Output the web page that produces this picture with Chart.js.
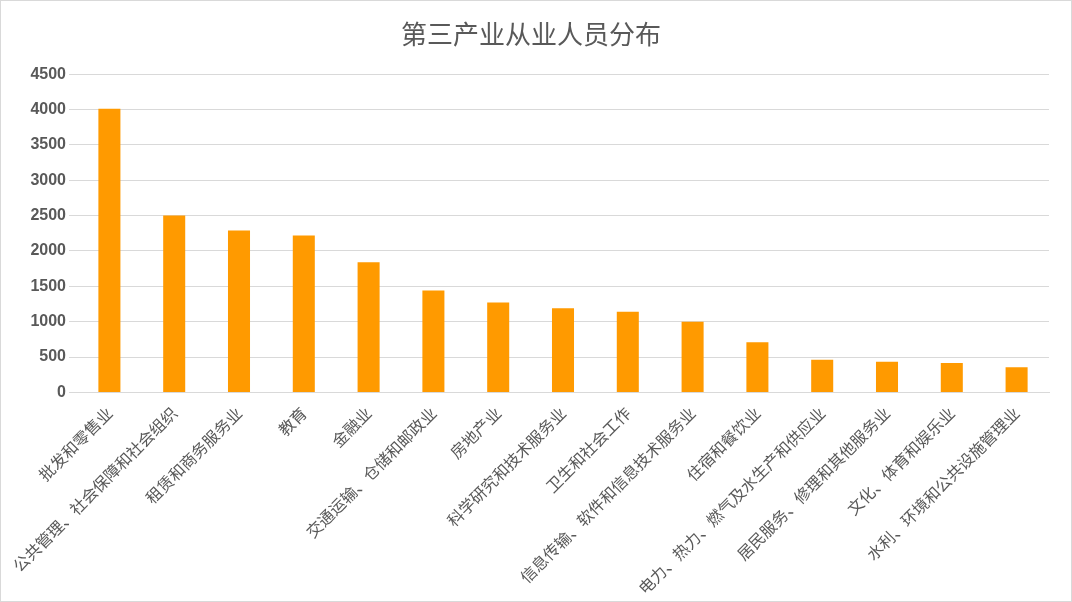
<!DOCTYPE html>
<html><head><meta charset="utf-8">
<script src="https://cdn.jsdelivr.net/npm/chart.js@4/dist/chart.umd.min.js"></script>
<style>html,body{margin:0;padding:0;background:#fff}#w{width:1070px;height:600px;border:1px solid #d9d9d9;position:relative}</style>
</head><body><div id="w"><canvas id="c"></canvas></div>
<script>
const categories=["批发和零售业","公共管理、社会保障和社会组织","租赁和商务服务业","教育","金融业","交通运输、仓储和邮政业","房地产业","科学研究和技术服务业","卫生和社会工作","信息传输、软件和信息技术服务业","住宿和餐饮业","电力、热力、燃气及水生产和供应业","居民服务、修理和其他服务业","文化、体育和娱乐业","水利、环境和公共设施管理业"];
const values=[4010,2500,2290,2220,1840,1440,1270,1190,1140,1000,710,463,432,417,355];
const FONT='"Noto Sans CJK SC","Noto Sans",sans-serif';
new Chart(document.getElementById('c'),{type:'bar',
data:{labels:categories,datasets:[{data:values,backgroundColor:'#FF9A00',barPercentage:0.68,categoryPercentage:0.5}]},
options:{responsive:true,maintainAspectRatio:false,animation:false,
layout:{padding:{left:12,right:22,top:12,bottom:0}},
plugins:{legend:{display:false},tooltip:{enabled:false},
title:{display:true,text:'第三产业从业人员分布',color:'#595959',font:{family:FONT,size:26,weight:'normal'},padding:{top:6,bottom:24}}},
scales:{x:{grid:{display:false},border:{color:'#d9d9d9'},ticks:{color:'#595959',font:{family:FONT,size:16},maxRotation:45,minRotation:45,autoSkip:false}},
y:{min:0,max:4500,afterFit:s=>{s.width=64},ticks:{stepSize:500,color:'#595959',callback:v=>String(v),font:{family:'"Liberation Sans",sans-serif',size:16,weight:'bold'}},grid:{color:'#d9d9d9'},border:{display:false}}}}});
</script></body></html>
